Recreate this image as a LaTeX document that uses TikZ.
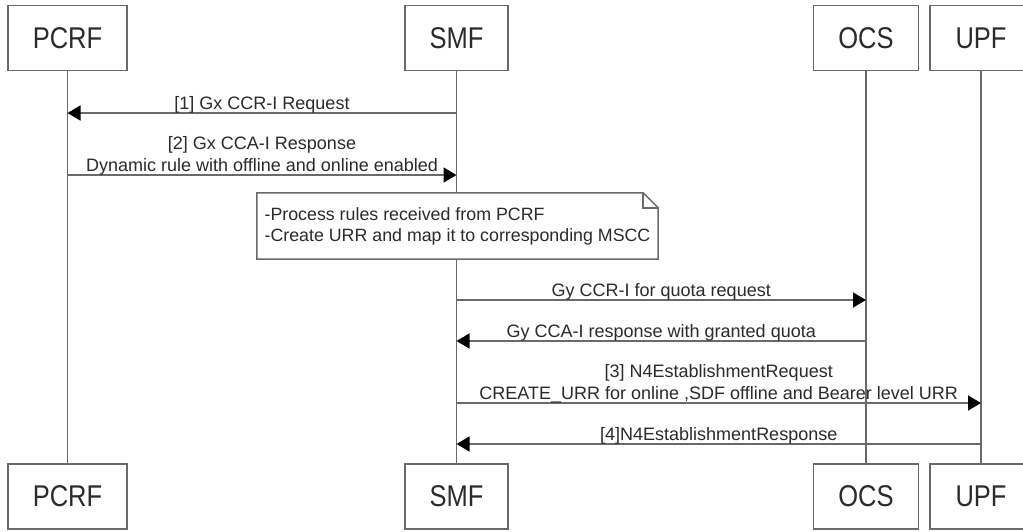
\documentclass[tikz,border=0pt]{standalone}
\usepackage{fontspec}
\setmainfont{Liberation Sans}
\newfontfamily\entityfont[FakeStretch=0.85]{Liberation Sans}
\usetikzlibrary{arrows.meta,positioning}
\definecolor{linegray}{HTML}{6A6A6A}
\definecolor{textgray}{HTML}{2B2B2B}
\tikzstyle{entity} = [draw=linegray, line width=1.5pt, rectangle, minimum height=65pt, text=textgray, font=\entityfont\fontsize{30}{36}\selectfont]
\tikzstyle{lifeline} = [draw=linegray, line width=1.5pt]
\tikzstyle{message} = [draw=linegray, line width=1.5pt, -{Triangle[length=13pt,width=15pt,color=black]}]
\tikzstyle{msglabel} = [above, inner sep=0pt, yshift=-1pt, align=center, text=textgray, font=\fontsize{18}{22}\selectfont]
\tikzstyle{note} = [rectangle, fill=white, minimum width=401pt, minimum height=66pt, inner xsep=5pt, align=left, text=textgray, font=\fontsize{17.8}{21}\selectfont]
\tikzstyle{noteline} = [draw=linegray, line width=1.5pt]

\begin{document}
\begin{tikzpicture}[x=1pt, y=-1pt]

\path [use as bounding box, fill=white] (0,0) rectangle (1023,531);

% participants
\node [entity, minimum width=119pt] (pcrf) at (67.5,38) {PCRF};
\node [entity, minimum width=103pt] (smf) at (456.5,38) {SMF};
\node [entity, minimum width=105pt] (ocs) at (866,38) {OCS};
\node [entity, minimum width=102pt] (upf) at (981,38) {UPF};

\node [entity, minimum width=119pt, below=392pt of pcrf] (pcrf-b) {PCRF};
\node [entity, minimum width=103pt, below=392pt of smf] (smf-b) {SMF};
\node [entity, minimum width=105pt, below=392pt of ocs] (ocs-b) {OCS};
\node [entity, minimum width=102pt, below=392pt of upf] (upf-b) {UPF};

\foreach \n in {pcrf,smf,ocs,upf}
  \draw [lifeline] (\n) -- (\n-b);

% message rows
\coordinate (r1) at (0,113);
\coordinate (r2) at (0,175);
\coordinate (r3) at (0,300);
\coordinate (r4) at (0,341);
\coordinate (r5) at (0,403);
\coordinate (r6) at (0,444);

\draw [message] (smf |- r1) -- node [msglabel] {[1] Gx CCR-I Request} (pcrf |- r1);
\draw [message] (pcrf |- r2) -- node [msglabel] {[2] Gx CCA-I Response\\Dynamic rule with offline and online enabled} (smf |- r2);

\node [note] (proc) at (457.5,226) {-Process rules received from PCRF\\-Create URR and map it to corresponding MSCC};
\draw [noteline] (proc.north west) -- ([xshift=-15pt]proc.north east) -- ([yshift=-15pt]proc.north east) -- (proc.south east) -- (proc.south west) -- cycle;
\draw [noteline] ([xshift=-15pt]proc.north east) |- ([yshift=-15pt]proc.north east);

\draw [message] (smf |- r3) -- node [msglabel] {Gy CCR-I for quota request} (ocs |- r3);
\draw [message] (ocs |- r4) -- node [msglabel] {Gy CCA-I response with granted quota} (smf |- r4);
\draw [message] (smf |- r5) -- node [msglabel] {[3] N4EstablishmentRequest\\CREATE\_URR for online ,SDF offline and Bearer level URR} (upf |- r5);
\draw [message] (upf |- r6) -- node [msglabel] {[4]N4EstablishmentResponse} (smf |- r6);

\end{tikzpicture}
\end{document}
